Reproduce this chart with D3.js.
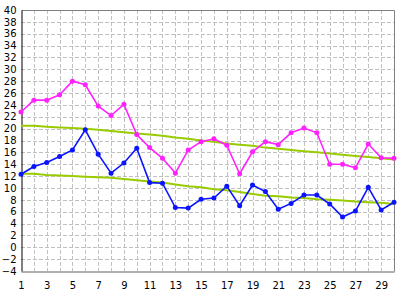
<!DOCTYPE html>
<html>
<head>
<meta charset="utf-8">
<script src="https://cdn.jsdelivr.net/npm/d3@7"></script>
<style>
  body { margin: 0; background: #fff; }
  svg text { font-family: "DejaVu Sans", sans-serif; font-size: 10px; fill: #000; }
</style>
</head>
<body>
<svg id="chart" width="399" height="291"></svg>
<script>
var days = d3.range(1, 31)
var highTemps = [22.8, 24.8, 24.8, 25.7, 28.0, 27.4, 23.8, 22.2, 24.1, 19.0,
  16.8, 15.0, 12.5, 16.4, 17.8, 18.3, 17.2, 12.4, 16.1, 17.8,
  17.3, 19.3, 20.1, 19.3, 14.0, 14.0, 13.4, 17.4, 15.1, 15.0]
var lowTemps = [12.3, 13.6, 14.3, 15.3, 16.4, 19.8, 15.7, 12.5, 14.2, 16.7,
  10.9, 10.8, 6.7, 6.6, 8.1, 8.3, 10.3, 7.0, 10.5, 9.4,
  6.4, 7.4, 8.8, 8.8, 7.3, 5.1, 6.1, 10.1, 6.3, 7.6]
var normalHigh = [20.5, 20.5, 20.3, 20.2, 20.1, 20.0, 19.8, 19.6, 19.4, 19.2,
  19.0, 18.8, 18.5, 18.3, 18.0, 17.8, 17.5, 17.3, 17.1, 16.8,
  16.6, 16.4, 16.2, 16.0, 15.8, 15.6, 15.4, 15.2, 15.0, 14.8]
var normalLow = [12.4, 12.4, 12.2, 12.1, 12.0, 11.9, 11.8, 11.7, 11.5, 11.3,
  11.1, 10.9, 10.6, 10.3, 10.1, 9.8, 9.6, 9.3, 9.0, 8.7,
  8.6, 8.4, 8.3, 8.1, 8.0, 7.9, 7.7, 7.6, 7.5, 7.3]
var yTicks = d3.range(-4, 41, 2)
var xTicks = d3.range(1, 31, 2)

;(function (d3) {
  var svg = d3.select('#chart')
  var pL = 21, pR = 394, pT = 10, pB = 271

  var x = d3.scaleLinear().domain([1, 30]).range([pL, pR])
  var y = d3.scaleLinear().domain([-4, 40]).range([pB, pT])

  // grid
  svg.append('g').selectAll('line')
    .data(yTicks.slice(1, -1))
    .enter().append('line')
    .attr('x1', pL).attr('x2', pR)
    .attr('y1', function (d) { return Math.round(y(d)) + 0.5 })
    .attr('y2', function (d) { return Math.round(y(d)) + 0.5 })
    .attr('stroke', '#c0c0c0').attr('stroke-dasharray', '4,2')

  svg.append('g').selectAll('line')
    .data(days.slice(1, -1))
    .enter().append('line')
    .attr('y1', pT).attr('y2', pB)
    .attr('x1', function (d) { return Math.round(x(d)) + 0.5 })
    .attr('x2', function (d) { return Math.round(x(d)) + 0.5 })
    .attr('stroke', '#c0c0c0').attr('stroke-dasharray', '4,2')

  // frame
  svg.append('path')
    .attr('d', 'M' + (pL + 0.5) + ',' + (pT + 0.5) + 'H' + (pR + 0.5) + 'V' + (pB + 0.5))
    .attr('fill', 'none').attr('stroke', '#808080')

  // axes
  var yAxis = d3.axisLeft(y).tickValues(yTicks).tickSize(0).tickPadding(5)
    .tickFormat(function (d) { return d < 0 ? '\u2212' + Math.abs(d) : d })
  var gy = svg.append('g').attr('transform', 'translate(' + (pL + 0.5) + ',0)').call(yAxis)
  gy.select('.domain').attr('stroke', '#000')

  var xAxis = d3.axisBottom(x).tickValues(xTicks).tickSize(0).tickPadding(10)
  var gx = svg.append('g').attr('transform', 'translate(0,' + (pB + 0.5) + ')').call(xAxis)
  gx.select('.domain').attr('stroke', '#606060')
  svg.selectAll('g').attr('font-family', null).attr('font-size', null)

  var line = d3.line()
    .x(function (d, i) { return x(days[i]) })
    .y(function (d) { return y(d) })

  function drawSeries (vals, color, width, dots) {
    svg.append('path').datum(vals)
      .attr('d', line).attr('fill', 'none')
      .attr('stroke', color).attr('stroke-width', width)
    if (dots) {
      svg.append('g').selectAll('circle')
        .data(vals).enter().append('circle')
        .attr('cx', function (d, i) { return x(days[i]) })
        .attr('cy', function (d) { return y(d) })
        .attr('r', 2.5).attr('fill', color)
    }
  }

  drawSeries(normalHigh, '#99cc00', 2, false)
  drawSeries(normalLow, '#99cc00', 2, false)
  drawSeries(highTemps, '#ff22ff', 1.6, true)
  drawSeries(lowTemps, '#0a14ff', 1.6, true)
})(window.d3)
</script>
</body>
</html>
